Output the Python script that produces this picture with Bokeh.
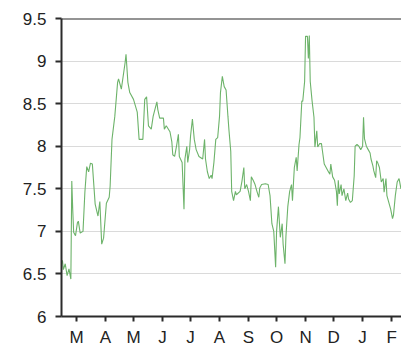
from bokeh.plotting import figure
from bokeh.models import Range1d, FixedTicker, Span
from bokeh.embed import file_html
from bokeh.resources import INLINE

# day offsets (from Feb 13) and values
days = [0, 1, 2, 4, 6, 8, 10, 11, 12, 13, 15, 17, 18, 20, 23, 25, 27, 29, 31, 33,
        36, 39, 41, 43, 45, 48, 51, 52, 54, 57, 60, 61, 64, 68, 69, 71, 73, 77, 81, 83,
        87, 89, 91, 93, 96, 98, 102, 103, 105, 109, 110, 112, 116, 118, 119, 121, 123, 125, 126, 129,
        131, 132, 134, 135, 137, 138, 140, 142, 144, 147, 151, 153, 154, 156, 158, 160, 161, 163, 165, 167,
        169, 170, 172, 174, 176, 178, 179, 181, 182, 184, 186, 187, 191, 193, 195, 196, 198, 200, 202, 203,
        205, 207, 209, 211, 212, 214, 218, 221, 223, 225, 227, 229, 230, 232, 234, 236, 237, 239, 240, 242,
        244, 246, 247, 249, 251, 252, 254, 255, 257, 258, 260, 261, 263, 264, 265, 266, 268, 270, 271, 273,
        274, 276, 278, 279, 281, 283, 285, 287, 288, 290, 292, 294, 295, 296, 297, 299, 300, 302, 304, 306,
        307, 309, 311, 313, 314, 316, 318, 320, 322, 323, 324, 326, 328, 330, 331, 333, 334, 336, 337, 338,
        340, 342, 344, 345, 347, 348, 350, 352, 354, 355, 357, 359, 361, 363]
values = [6.62, 6.66, 6.55, 6.62, 6.48, 6.56, 6.44, 7.59, 7.26, 6.99, 6.95, 7.10, 7.12, 6.98, 7.00, 7.46, 7.76, 7.70, 7.80, 7.79,
          7.32, 7.18, 7.35, 6.85, 6.92, 7.33, 7.40, 7.53, 8.08, 8.35, 8.75, 8.79, 8.67, 8.98, 9.08, 8.75, 8.63, 8.55, 8.40, 8.08,
          8.08, 8.55, 8.58, 8.24, 8.20, 8.35, 8.52, 8.43, 8.33, 8.33, 8.20, 8.24, 8.17, 8.05, 7.90, 7.88, 8.00, 8.14, 7.88, 7.81,
          7.26, 7.85, 8.00, 7.81, 7.96, 8.12, 8.32, 8.08, 7.96, 7.88, 7.85, 8.08, 7.85, 7.70, 7.62, 7.66, 7.62, 7.81, 8.08, 8.10,
          8.35, 8.63, 8.82, 8.70, 8.66, 8.35, 8.20, 7.94, 7.47, 7.36, 7.47, 7.43, 7.47, 7.59, 7.75, 7.50, 7.55, 7.47, 7.36, 7.64,
          7.60, 7.55, 7.47, 7.40, 7.51, 7.55, 7.56, 7.55, 7.42, 7.09, 7.00, 6.58, 7.00, 7.29, 6.93, 7.09, 6.85, 6.62, 6.94, 7.29,
          7.47, 7.55, 7.36, 7.75, 7.87, 7.71, 8.02, 8.10, 8.53, 8.53, 8.76, 9.29, 9.29, 9.03, 9.30, 8.76, 8.53, 8.34, 7.99, 8.18,
          7.99, 8.03, 8.03, 7.95, 7.79, 7.75, 7.71, 7.67, 7.79, 7.64, 7.60, 7.47, 7.30, 7.60, 7.44, 7.55, 7.42, 7.50, 7.36, 7.45,
          7.38, 7.34, 7.36, 7.65, 8.00, 8.02, 8.00, 7.96, 8.00, 8.34, 8.09, 8.00, 7.96, 7.92, 7.85, 7.77, 7.71, 7.63, 7.83, 7.81,
          7.75, 7.58, 7.62, 7.46, 7.62, 7.42, 7.34, 7.26, 7.15, 7.19, 7.42, 7.58, 7.62, 7.50]

month_ticks = [16, 47, 77, 108, 138, 169, 200, 230, 261, 291, 322, 353]
month_labels = ["M", "A", "M", "J", "J", "A", "S", "O", "N", "D", "J", "F"]
y_ticks = [6, 6.5, 7, 7.5, 8, 8.5, 9, 9.5]
y_labels = ["6", "6.5", "7", "7.5", "8", "8.5", "9", "9.5"]

p = figure(width=401, height=349, output_backend="svg", toolbar_location=None,
           x_range=Range1d(0, 363.6), y_range=Range1d(6, 9.5),
           min_border_left=61, min_border_right=0, min_border_top=18, min_border_bottom=0)

p.line(days, values, line_color="#6db36a", line_width=1.1)

p.outline_line_color = None
p.add_layout(Span(location=9.5, dimension="width", line_color="#2b2b2b", line_width=2))

FONT = "Liberation Sans"
for ax in (p.xaxis[0], p.yaxis[0]):
    ax.axis_line_color = "#2b2b2b"
    ax.axis_line_width = 2
    ax.major_tick_line_color = "#2b2b2b"
    ax.major_tick_line_width = 2
    ax.minor_tick_line_color = None
    ax.major_tick_in = 0
    ax.major_label_text_font = FONT
    ax.major_label_text_font_size = "17px"
    ax.major_label_text_color = "#222222"

p.xaxis.ticker = FixedTicker(ticks=month_ticks)
p.xaxis.major_label_overrides = {t: l for t, l in zip(month_ticks, month_labels)}
p.xaxis.major_tick_out = 5
p.xaxis.major_label_standoff = 6

p.yaxis.ticker = FixedTicker(ticks=y_ticks)
p.yaxis.major_label_overrides = {t: l for t, l in zip(y_ticks, y_labels)}
p.yaxis.major_tick_out = 6
p.yaxis.major_label_standoff = 9

p.xgrid.grid_line_color = None
p.ygrid.ticker = FixedTicker(ticks=y_ticks)
p.ygrid.grid_line_color = "#dadada"
p.ygrid.grid_line_width = 1

open("out.html", "w").write(file_html(p, INLINE))
